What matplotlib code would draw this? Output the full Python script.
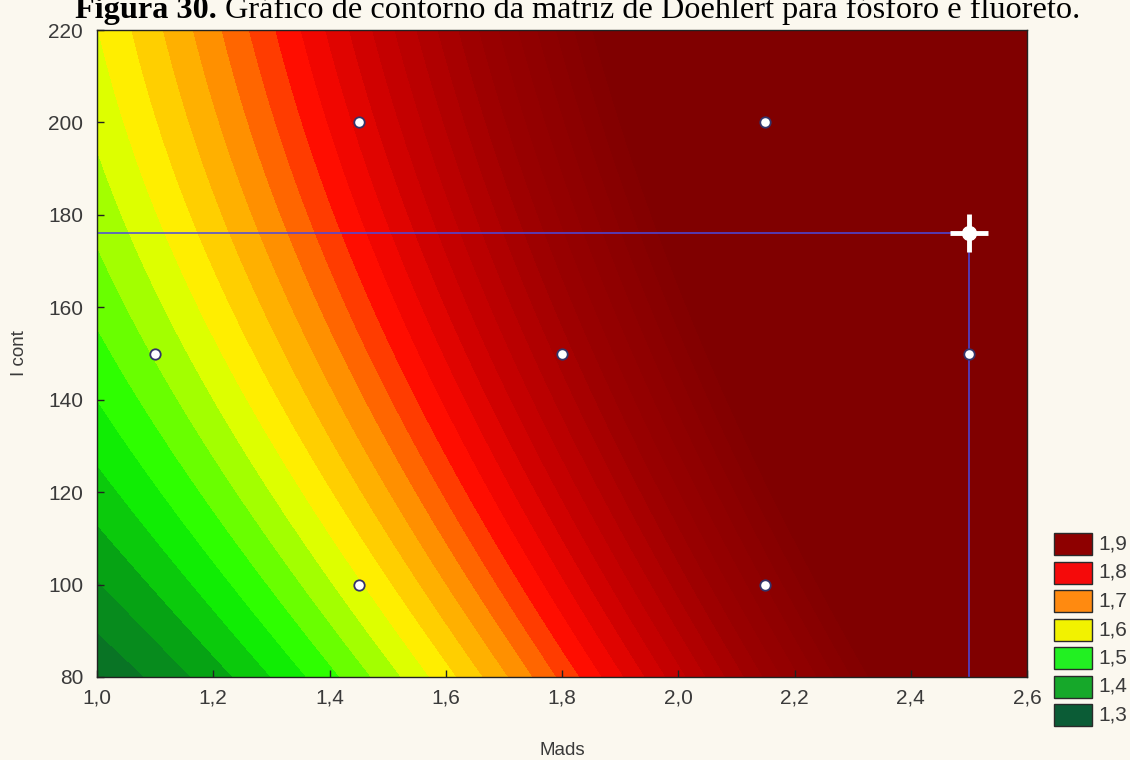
import numpy as np
import matplotlib
matplotlib.use("Agg")
import matplotlib.pyplot as plt
from matplotlib.colors import LinearSegmentedColormap, Normalize
from matplotlib.patches import Rectangle

# Doehlert design points (Mads, I cont) and the response
design_mads = [1.8, 2.5, 1.1, 2.15, 1.45, 2.15, 1.45]
design_icont = [150, 150, 150, 200, 200, 100, 100]
design_resp = [2.002, 2.732, 1.543, 2.491, 1.848, 2.140, 1.595]

# critical point marked with the crosshair
opt_mads, opt_icont = 2.5, 176

x_ticks = [1.0, 1.2, 1.4, 1.6, 1.8, 2.0, 2.2, 2.4, 2.6]
x_tick_labels = ["1,0", "1,2", "1,4", "1,6", "1,8", "2,0", "2,2", "2,4", "2,6"]
y_ticks = [80, 100, 120, 140, 160, 180, 200, 220]

legend_labels = ["1,9", "1,8", "1,7", "1,6", "1,5", "1,4", "1,3"]
legend_colors = ["#8e0000", "#f50a0a", "#ff8a10", "#f2f200", "#22f022", "#16a82a", "#0b5c36"]

# colour ramp of the surface (value -> colour)
ramp_values = [1.31, 1.40, 1.48, 1.60, 1.70, 1.80, 1.90, 2.05, 2.25]
ramp_colors = ["#0a5a2e", "#06a015", "#12ff00", "#ffff00", "#ff9600", "#ff0800",
               "#c80000", "#9a0000", "#800000"]

BG = "#fbf8ef"
W, H = 1130, 760


def main():
    # second-order model fitted to the design points
    xd, yd, zd = np.array(design_mads), np.array(design_icont, float), np.array(design_resp)
    A = np.column_stack([np.ones_like(xd), xd, yd, xd**2, yd**2, xd*yd])
    coef = np.linalg.lstsq(A, zd, rcond=None)[0]

    gx, gy = np.meshgrid(np.linspace(x_ticks[0], x_ticks[-1], 400),
                         np.linspace(y_ticks[0], y_ticks[-1], 400))
    gz = coef[0] + coef[1]*gx + coef[2]*gy + coef[3]*gx**2 + coef[4]*gy**2 + coef[5]*gx*gy

    lo, hi = ramp_values[0], ramp_values[-1]
    cmap = LinearSegmentedColormap.from_list(
        "statra", [((v - lo)/(hi - lo), c) for v, c in zip(ramp_values, ramp_colors)])

    fig = plt.figure(figsize=(W/100, H/100), dpi=100, facecolor=BG)
    ax = fig.add_axes([97/W, 1 - 677/H, 930/W, 647/H])
    ax.contourf(gx, gy, gz, levels=np.arange(1.15, 2.45, 0.03), cmap=cmap,
                norm=Normalize(lo, hi), extend="both")

    line_c = "#4a4ae0"
    ax.plot([x_ticks[0], opt_mads], [opt_icont, opt_icont], color=line_c, lw=1.1)
    ax.plot([opt_mads, opt_mads], [opt_icont, y_ticks[0]], color=line_c, lw=1.1)
    ax.plot(design_mads, design_icont, "o", ms=7.5, mfc="white", mec="#34346a", mew=1.3)
    ax.plot(opt_mads, opt_icont, marker="+", ms=28, mew=3.5, color="white")
    ax.plot(opt_mads, opt_icont, "o", ms=10, color="white")

    ax.set_xlim(x_ticks[0], x_ticks[-1]); ax.set_ylim(y_ticks[0], y_ticks[-1])
    ax.set_xticks(x_ticks); ax.set_xticklabels(x_tick_labels)
    ax.set_yticks(y_ticks)
    ax.tick_params(direction="in", length=5, width=1, color="#222222",
                   labelsize=15, labelcolor="#3a3a3a")
    ax.tick_params(axis="x", pad=8); ax.tick_params(axis="y", pad=10)
    for lab in ax.get_xticklabels() + ax.get_yticklabels():
        lab.set_family("Liberation Sans")
    for s in ax.spines.values():
        s.set_color("#222222"); s.set_linewidth(1.0)

    ax.set_xlabel("Mads", fontsize=13.5, color="#3a3a3a", family="Liberation Sans")
    ax.set_ylabel("I cont", fontsize=13.5, color="#3a3a3a", family="Liberation Sans")
    ax.xaxis.set_label_coords(0.5, -0.1)
    ax.yaxis.set_label_coords(-0.074, 0.5)

    # legend swatches
    for i, (lab, col) in enumerate(zip(legend_labels, legend_colors)):
        top = 533 + i*28.5
        fig.add_artist(Rectangle((1054/W, 1 - (top + 22)/H), 38/W, 22/H,
                                 transform=fig.transFigure, facecolor=col,
                                 edgecolor="#2a2a2a", lw=1.0))
        fig.text(1098/W, 1 - (top + 11)/H, lab, fontsize=15, color="#3a3a3a",
                 family="Liberation Sans", va="center", ha="left")

    # title, cut off at the top like the scan
    t1 = fig.text(75/W, 1 - 18/H, "Figura 30.", fontsize=23.2, weight="bold",
                  family="Liberation Serif", va="baseline", ha="left")
    fig.canvas.draw()
    bb = t1.get_window_extent()
    fig.text(bb.x1/W + 8/W, 1 - 18/H, "Gráfico de contorno da matriz de Doehlert para fósforo e fluoreto.",
             fontsize=23.2, family="Liberation Serif", va="baseline", ha="left")

    fig.savefig("out.png", dpi=100, facecolor=BG)


if __name__ == "__main__":
    main()
